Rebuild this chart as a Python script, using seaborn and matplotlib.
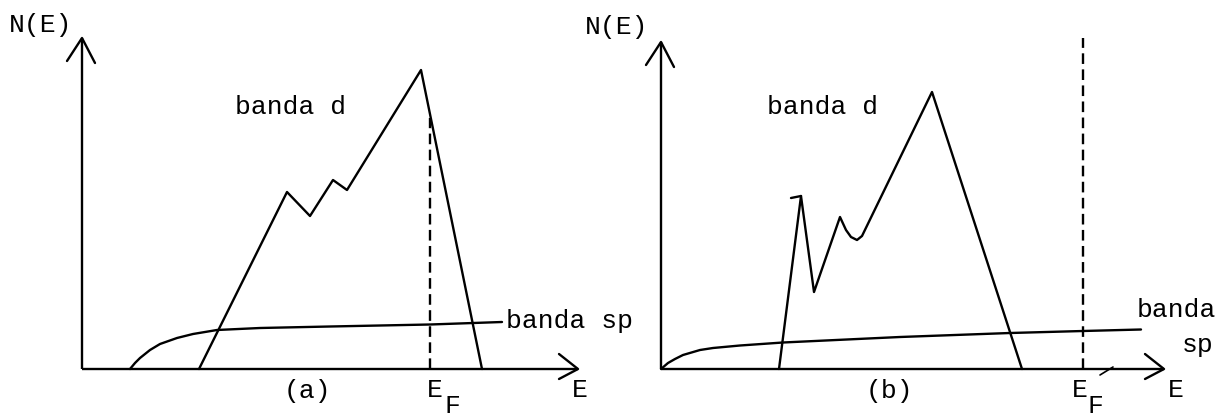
import matplotlib
matplotlib.use("Agg")
import matplotlib.pyplot as plt
import seaborn as sns
import pandas as pd

sns.set_theme(style="white")
plt.rcParams["font.family"] = ["Liberation Mono", "DejaVu Sans Mono"]

# ---- panel (a): density of states, Fermi level inside the d band ----
d_a_E = [11.7, 20.5, 22.8, 25.1, 26.5, 33.9, 40.0]
d_a_N = [0.0, 17.7, 15.3, 18.9, 17.9, 29.9, 0.0]
sp_a_E = [4.8, 5.3, 5.8, 6.8, 7.8, 9.5, 11.1, 13.5, 17.8, 24.8, 34.8, 42.0]
sp_a_N = [0.0, 0.6, 1.1, 1.9, 2.5, 3.1, 3.5, 3.9, 4.1, 4.25, 4.45, 4.7]
ef_a = 34.8
ef_a_top = 25.1

# ---- panel (b): Fermi level above the d band ----
d_b_E = [11.8, 14.0, 15.3, 17.9, 18.5, 19.0, 19.6, 20.1, 27.1, 36.1]
d_b_N = [0.0, 17.3, 7.7, 15.2, 13.9, 13.2, 12.9, 13.3, 27.7, 0.0]
sp_b_E = [0.0, 0.7, 1.4, 2.2, 3.9, 5.2, 7.9, 12.2, 23.9, 34.9, 42.2, 48.0]
sp_b_N = [0.0, 0.6, 1.0, 1.4, 1.9, 2.1, 2.35, 2.65, 3.2, 3.6, 3.8, 3.95]
ef_b = 42.2
ef_b_top = 33.1

axis_label = "N(E)"
energy_label = "E"
band_d = "banda d"
band_sp = "banda sp"

LW = 1.7
INK = "black"
FS = 19
DASH = (4.5, 2.3)

fig = plt.figure(figsize=(12.21, 4.17), dpi=100)
ax_a = fig.add_axes([0, 0, 610 / 1221, 1])
ax_b = fig.add_axes([610 / 1221, 0, 611 / 1221, 1])
ax_a.set_xlim(-8.2, 52.8)
ax_a.set_ylim(-4.8, 36.9)
ax_b.set_xlim(-5.1, 56.0)
ax_b.set_ylim(-4.8, 36.9)


def draw_axes(ax, y_tip, x_tip):
    # vertical axis with open arrow head
    ax.plot([0, 0], [0, y_tip], color=INK, lw=LW, solid_capstyle="butt")
    ax.plot([-1.5, 0, 1.3], [y_tip - 2.3, y_tip, y_tip - 2.5], color=INK, lw=LW)
    # horizontal axis with open arrow head
    ax.plot([0, x_tip], [0, 0], color=INK, lw=LW, solid_capstyle="butt")
    ax.plot([x_tip - 1.9, x_tip, x_tip - 1.9], [1.5, 0, -1.0], color=INK, lw=LW)


def band(ax, E, N):
    df = pd.DataFrame({"E": E, "N": N})
    sns.lineplot(data=df, x="E", y="N", sort=False, estimator=None,
                 color=INK, lw=LW, ax=ax)


def text(ax, x, y, s, ha="center"):
    ax.text(x, y, s, fontsize=FS, ha=ha, va="center", color=INK)


# panel (a)
draw_axes(ax_a, 33.1, 49.6)
band(ax_a, d_a_E, d_a_N)
band(ax_a, sp_a_E, sp_a_N)
ax_a.plot([ef_a, ef_a], [0, ef_a_top], color=INK, lw=LW, dashes=DASH)
text(ax_a, -4.1, 34.4, axis_label)
text(ax_a, 20.9, 26.2, band_d)
text(ax_a, 42.4, 4.8, band_sp, ha="left")
text(ax_a, 22.5, -2.2, "(a)")
text(ax_a, 35.3, -2.1, "E")
text(ax_a, 37.0, -3.7, "F")
text(ax_a, 49.8, -2.1, energy_label)

# panel (b)
draw_axes(ax_b, 32.7, 50.3)
band(ax_b, d_b_E, d_b_N)
ax_b.plot([13.0, 14.0], [17.1, 17.3], color=INK, lw=LW)
band(ax_b, sp_b_E, sp_b_N)
ax_b.plot([ef_b, ef_b], [0, ef_b_top], color=INK, lw=LW, dashes=DASH)
ax_b.plot([43.9, 45.2], [-0.6, 0.2], color=INK, lw=1.2)
text(ax_b, -4.4, 34.2, axis_label)
text(ax_b, 16.2, 26.2, band_d)
text(ax_b, 47.6, 5.9, "banda", ha="left")
text(ax_b, 52.1, 2.4, "sp", ha="left")
text(ax_b, 22.8, -2.2, "(b)")
text(ax_b, 41.9, -2.1, "E")
text(ax_b, 43.4, -3.7, "F")
text(ax_b, 51.5, -2.1, energy_label)

for ax in (ax_a, ax_b):
    ax.set_axis_off()
    if ax.get_legend() is not None:
        ax.get_legend().remove()

fig.savefig("out.png", dpi=100, facecolor="white")
